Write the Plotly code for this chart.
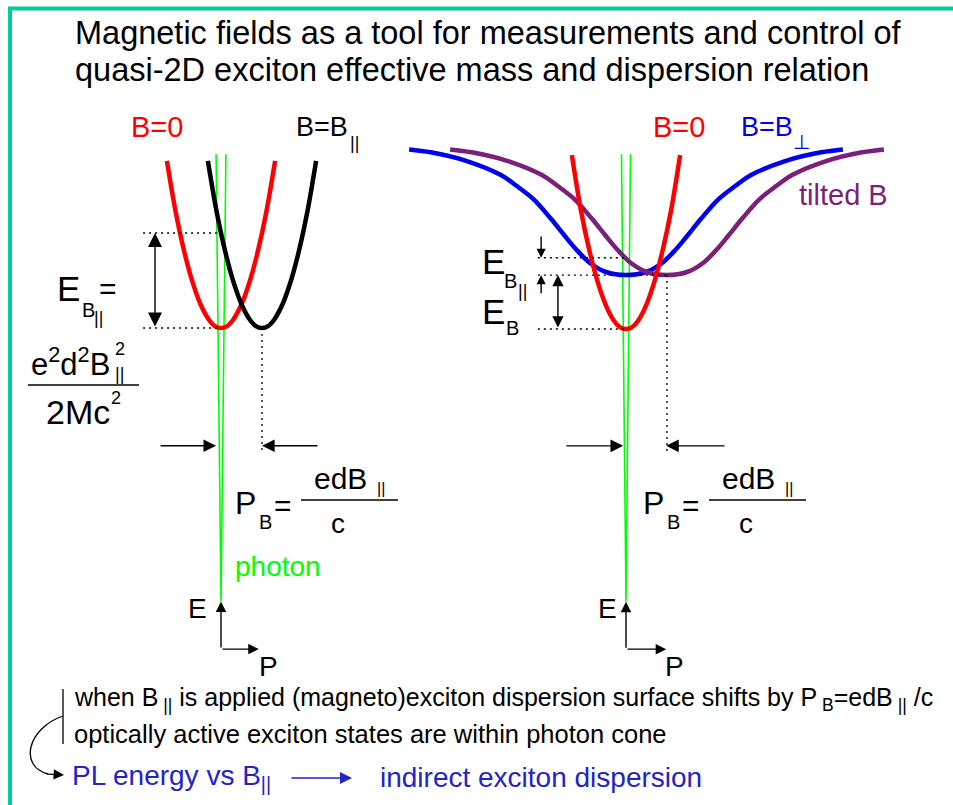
import plotly.graph_objects as go

W, H = 953, 805
FONT = "Liberation Sans, Arial, sans-serif"

RED = "#FF0000"
BLUE = "#0000F0"
PURPLE = "#7B1F7B"
GREEN = "#00FF00"
TEXT_BLUE = "#2323C8"
FRAME = "#00CC99"

# ---------------- left panel: in-plane field B|| ----------------
# momentum P in units of P_B = edB||/c, energy E in units of E_B||
red_left_P = [-1.32, -1.1, -0.9, -0.7, -0.5, -0.3, -0.15, 0.0, 0.15, 0.3, 0.5, 0.7, 0.9, 1.1, 1.32]
red_left_E = [1.76, 1.21, 0.81, 0.49, 0.25, 0.09, 0.02, 0.0, 0.02, 0.09, 0.25, 0.49, 0.81, 1.21, 1.76]
black_P = [-0.32, -0.1, 0.1, 0.3, 0.5, 0.7, 0.85, 1.0, 1.15, 1.3, 1.5, 1.7, 1.9, 2.1, 2.32]
black_E = [1.76, 1.21, 0.81, 0.49, 0.25, 0.09, 0.02, 0.0, 0.02, 0.09, 0.25, 0.49, 0.81, 1.21, 1.76]
photon_left_P = [-0.12, 0.0, 0.12]
photon_left_E = [1.83, -2.88, 1.83]
E_B_par_left = 1.0
P_B_left = 1.0

# ---------------- right panel: perpendicular and tilted field ----------------
red_right_P = [-1.32, -1.1, -0.9, -0.7, -0.5, -0.3, -0.15, 0.0, 0.15, 0.3, 0.5, 0.7, 0.9, 1.1, 1.32]
red_right_E = [1.83, 1.25, 0.84, 0.51, 0.26, 0.09, 0.02, 0.0, 0.02, 0.09, 0.26, 0.51, 0.84, 1.25, 1.83]
blue_P = [-5.29, -4.76, -3.90, -3.05, -2.68, -2.24, -1.83, -1.51, -1.22, -0.88, -0.49, 0.0,
          0.49, 0.88, 1.22, 1.51, 1.83, 2.24, 2.68, 3.05, 3.90, 4.76, 5.29]
blue_E = [1.89, 1.86, 1.77, 1.62, 1.51, 1.36, 1.16, 0.99, 0.84, 0.695, 0.60, 0.568,
          0.60, 0.695, 0.84, 0.99, 1.16, 1.36, 1.51, 1.62, 1.77, 1.86, 1.89]
purple_P = [-4.29, -3.76, -2.90, -2.05, -1.68, -1.24, -0.83, -0.51, -0.22, 0.12, 0.51, 1.0,
            1.49, 1.88, 2.22, 2.51, 2.83, 3.24, 3.68, 4.05, 4.90, 5.76, 6.29]
purple_E = [1.89, 1.86, 1.77, 1.62, 1.51, 1.36, 1.16, 0.99, 0.84, 0.695, 0.60, 0.568,
            0.60, 0.695, 0.84, 0.99, 1.16, 1.36, 1.51, 1.62, 1.77, 1.86, 1.89]
photon_right_P = [-0.11, 0.0, 0.11]
photon_right_E = [1.84, -2.87, 1.84]
E_B_right = 0.568        # minimum of the B-perp dispersion
E_tilted_at_0 = 0.75     # tilted-B dispersion at P = 0
P_B_right = 1.0

# pixel placement of each panel: origin (P=0, E=0) and scale (px per unit)
L_X0, L_Y0 = 221, 328
R_X0, R_Y0 = 626, 329
SX, SY = 41.0, 95.0


def prange(x0):
    return [-x0 / SX, (W - x0) / SX]


def erange(y0):
    return [(y0 - H) / SY, y0 / SY]


fig = go.Figure()

curve = dict(mode="lines", line_shape="spline", showlegend=False, hoverinfo="skip")

# left panel curves
fig.add_trace(go.Scatter(x=photon_left_P, y=photon_left_E, xaxis="x2", yaxis="y2",
                         mode="lines", line=dict(color=GREEN, width=1.6), showlegend=False, hoverinfo="skip"))
fig.add_trace(go.Scatter(x=red_left_P, y=red_left_E, xaxis="x2", yaxis="y2",
                         line=dict(color=RED, width=4.5), **curve))
fig.add_trace(go.Scatter(x=black_P, y=black_E, xaxis="x2", yaxis="y2",
                         line=dict(color="black", width=4.5), **curve))

# right panel curves
fig.add_trace(go.Scatter(x=photon_right_P, y=photon_right_E, xaxis="x3", yaxis="y3",
                         mode="lines", line=dict(color=GREEN, width=1.6), showlegend=False, hoverinfo="skip"))
fig.add_trace(go.Scatter(x=blue_P, y=blue_E, xaxis="x3", yaxis="y3",
                         line=dict(color=BLUE, width=4.5), **curve))
fig.add_trace(go.Scatter(x=purple_P, y=purple_E, xaxis="x3", yaxis="y3",
                         line=dict(color=PURPLE, width=4.5), **curve))
fig.add_trace(go.Scatter(x=red_right_P, y=red_right_E, xaxis="x3", yaxis="y3",
                         line=dict(color=RED, width=4.5), **curve))

DOT = dict(color="black", width=1.3, dash="2px,4px")


def dotted(xs, ys, ax):
    fig.add_trace(go.Scatter(x=xs, y=ys, xaxis="x" + ax, yaxis="y" + ax, mode="lines",
                             line=DOT, showlegend=False, hoverinfo="skip"))


# energy / momentum guide lines, left
dotted([-1.9, -0.1], [E_B_par_left, E_B_par_left], "2")
dotted([-1.9, 0.0], [0, 0], "2")
dotted([P_B_left, P_B_left], [0, -1.31], "2")
# right
dotted([-2.15, 0.0], [E_tilted_at_0, E_tilted_at_0], "3")
dotted([-2.15, P_B_right], [E_B_right, E_B_right], "3")
dotted([-2.15, 0.0], [0, 0], "3")
dotted([P_B_right, P_B_right], [E_B_right, -1.29], "3")

ann = []


def arrow(x, y, ax, ay, axis, head=2, size=1.0, width=1.4, color="black", both=False):
    ann.append(dict(x=x, y=y, ax=ax, ay=ay, xref="x" + axis, yref="y" + axis,
                    axref="x" + axis, ayref="y" + axis, text="", showarrow=True,
                    arrowhead=head, startarrowhead=head, arrowsize=size, startarrowsize=size,
                    arrowwidth=width, arrowcolor=color,
                    arrowside="end+start" if both else "end", standoff=0, startstandoff=0))


# left panel arrows
arrow(-1.61, E_B_par_left, -1.61, 0.0, "2", size=2.0, both=True)
arrow(-0.12, -1.24, -1.51, -1.24, "2", size=1.8)
arrow(P_B_left, -1.24, 2.39, -1.24, "2", size=1.8)
arrow(0.0, -2.88, 0.0, -3.38, "2", size=1.5)
arrow(0.92, -3.38, 0.0, -3.38, "2", size=1.5)
# right panel arrows
arrow(-2.07, E_tilted_at_0, -2.07, 0.99, "3", size=1.3)
arrow(-2.07, E_B_right, -2.07, 0.36, "3", size=1.3)
arrow(-1.66, E_B_right, -1.66, 0.0, "3", size=1.6, both=True)
arrow(-0.07, -1.23, -1.49, -1.23, "3", size=1.8)
arrow(0.98, -1.23, 2.44, -1.23, "3", size=1.8)
arrow(0.0, -2.87, 0.0, -3.37, "3", size=1.5)
arrow(0.98, -3.37, 0.0, -3.37, "3", size=1.5)


def label(x, y, text, size, color="black", xanchor="left", yanchor="middle"):
    ann.append(dict(x=x, y=y, xref="x", yref="y", text=text, showarrow=False,
                    xanchor=xanchor, yanchor=yanchor,
                    font=dict(family=FONT, size=size, color=color)))


# title
label(73, 33, "Magnetic fields as a tool for measurements and control of", 32.5)
label(73, 70, "quasi-2D exciton effective mass and dispersion relation", 32.5)

# field labels
label(129, 127, "B=0", 29, RED)
label(294, 127, "B=B", 27)
label(348, 143, "||", 18)
label(651, 127, "B=0", 29, RED)
label(739, 127, "B=B", 27, BLUE)
label(791, 142, "⊥", 20, BLUE)
label(797, 195, "tilted B", 29, PURPLE)

# left energy shift formula
label(55, 288, "E", 35)
label(80, 310, "B", 20)
label(92, 318, "||", 18)
label(97, 288, "=", 30)
label(29, 362, "e<sup>2</sup>d<sup>2</sup>B", 31)
label(113, 349, "2", 18)
label(113, 374, "||", 18)
label(44, 412, "2Mc", 34)
label(109, 398, "2", 18)

# right energy labels
label(480, 261, "E", 35)
label(502, 281, "B", 20)
label(516, 291, "||", 18)
label(480, 311, "E", 35)
label(504, 328, "B", 20)

# momentum shift formula, both panels
for dx in (0, 408):
    label(233 + dx, 503, "P", 32)
    label(257 + dx, 522, "B", 20)
    label(272 + dx, 505, "=", 30)
    label(312 + dx, 478, "edB", 30)
    label(375 + dx, 488, "||", 16)
    label(329 + dx, 523, "c", 28)

label(233, 566, "photon", 28, GREEN)
label(197, 608, "E", 28, xanchor="center")
label(607, 608, "E", 28, xanchor="center")
label(268, 666, "P", 28, xanchor="center")
label(674, 666, "P", 28, xanchor="center")

# bottom notes
label(72, 699, "when B<sub> ||</sub> is applied (magneto)exciton dispersion surface shifts by "
               "P<sub> B</sub>=edB<sub> ||</sub> /c", 25)
label(72, 734, "optically active exciton states are within photon cone", 25.5)
label(70, 777, "PL energy vs B<sub>||</sub>", 28, TEXT_BLUE)
label(378, 777, "indirect exciton dispersion", 28, TEXT_BLUE)
ann.append(dict(x=352, y=778, ax=290, ay=778, xref="x", yref="y", axref="x", ayref="y",
                text="", showarrow=True, arrowhead=2, arrowsize=1.6, arrowwidth=1.5,
                arrowcolor=TEXT_BLUE, standoff=0))
ann.append(dict(x=64, y=775, ax=46, ay=774, xref="x", yref="y", axref="x", ayref="y",
                text="", showarrow=True, arrowhead=2, arrowsize=1.6, arrowwidth=1.3,
                arrowcolor="black", standoff=0))

shapes = [
    # frame
    dict(type="line", xref="x", yref="y", x0=8, x1=W, y0=8.5, y1=8.5, line=dict(color=FRAME, width=4)),
    dict(type="line", xref="x", yref="y", x0=10, x1=10, y0=7, y1=H, line=dict(color=FRAME, width=4)),
    # fraction bars
    dict(type="line", xref="x", yref="y", x0=28, x1=139, y0=385, y1=385, line=dict(color="black", width=1.5)),
    dict(type="line", xref="x", yref="y", x0=301, x1=398, y0=500, y1=500, line=dict(color="black", width=1.5)),
    dict(type="line", xref="x", yref="y", x0=709, x1=806, y0=500, y1=500, line=dict(color="black", width=1.5)),
    # bracket and curved pointer of the notes
    dict(type="line", xref="x", yref="y", x0=63, x1=63, y0=689, y1=744, line=dict(color="black", width=1.3)),
    dict(type="path", xref="x", yref="y", path="M 63,716 C 28,728 18,766 48,774",
         line=dict(color="black", width=1.3)),
]

hidden = dict(visible=False, showgrid=False, zeroline=False, fixedrange=True)
fig.update_layout(
    width=W, height=H, margin=dict(l=0, r=0, t=0, b=0),
    paper_bgcolor="white", plot_bgcolor="rgba(0,0,0,0)",
    xaxis=dict(range=[0, W], domain=[0, 1], anchor="y", **hidden),
    yaxis=dict(range=[H, 0], domain=[0, 1], anchor="x", **hidden),
    xaxis2=dict(range=prange(L_X0), domain=[0, 1], anchor="y2", **hidden),
    yaxis2=dict(range=erange(L_Y0), domain=[0, 1], anchor="x2", **hidden),
    xaxis3=dict(range=prange(R_X0), domain=[0, 1], anchor="y3", **hidden),
    yaxis3=dict(range=erange(R_Y0), domain=[0, 1], anchor="x3", **hidden),
    annotations=ann, shapes=shapes, showlegend=False,
)

fig.write_html("out.html")
